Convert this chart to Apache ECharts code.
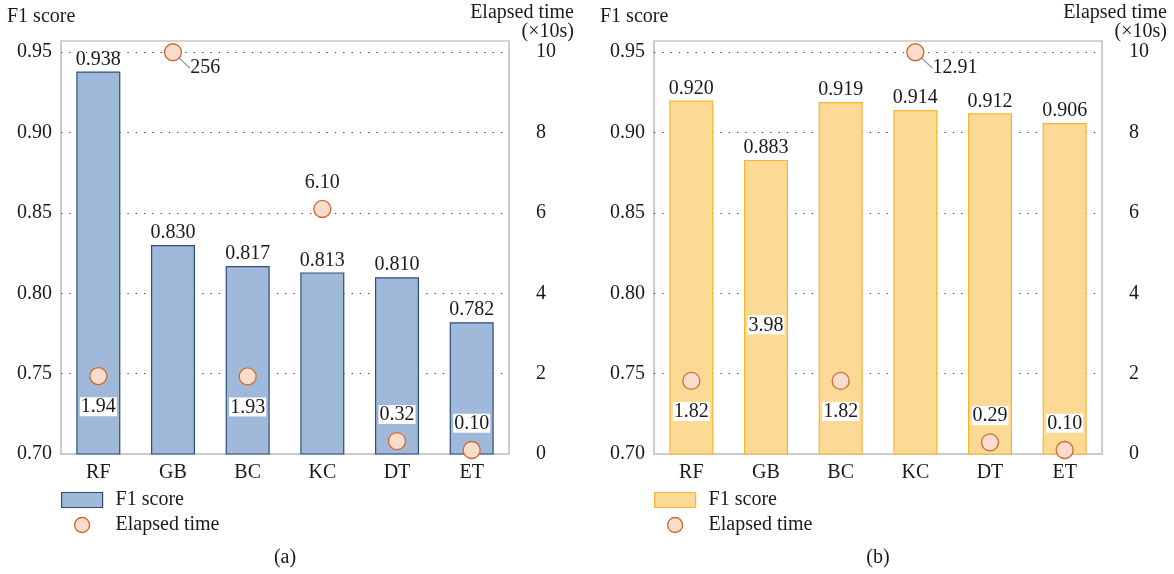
<!DOCTYPE html>
<html><head><meta charset="utf-8">
<script src="https://cdn.jsdelivr.net/npm/echarts@6/dist/echarts.min.js"></script>
<style>html,body{margin:0;padding:0;background:#fff}#c{width:1174px;height:574px}</style>
</head><body><div id="c"></div>
<script>
// ---- data ----
const categories = ['RF', 'GB', 'BC', 'KC', 'DT', 'ET'];
const f1A = [0.938, 0.830, 0.817, 0.813, 0.810, 0.782];
const timeA = [1.94, 256, 1.93, 6.10, 0.32, 0.10];
const f1B = [0.920, 0.883, 0.919, 0.914, 0.912, 0.906];
const timeB = [1.82, 3.98, 1.82, 12.91, 0.29, 0.10];
const f1Ticks = [0.70, 0.75, 0.80, 0.85, 0.90, 0.95];
const timeTicks = [0, 2, 4, 6, 8, 10];
const captions = ['(a)', '(b)'];
const seriesNames = ['F1 score', 'Elapsed time'];
const leftAxisTitle = 'F1 score';
const rightAxisTitle = 'Elapsed time\n(×10s)';

// ---- label placement / style config ----
const labelPlaceA = ['bottom', 'callout', 'bottom', 'top', 'top', 'top'];
const labelPlaceB = ['bottom', 'bottom', 'bottom', 'callout', 'top', 'top'];
const hiddenMarkersB = ['GB'];

const FONT = 'Liberation Serif';
const FS = 20;
const TXT = '#1a1a1a';
const BOX = '#c8c8c8';

const f1Min = f1Ticks[0], f1Step = f1Ticks[1] - f1Ticks[0];
const f1Top = f1Ticks[f1Ticks.length - 1];
const f1Max = 0.957; // a little headroom above the last tick
const tMin = timeTicks[0], tStep = timeTicks[1] - timeTicks[0];
const tTop = timeTicks[timeTicks.length - 1];
const tMax = tTop * (f1Max - f1Min) / (f1Top - f1Min);

const panels = [
  {left: 61, f1: f1A, time: timeA, place: labelPlaceA, hidden: [],
   bar: {color: '#a0b9da', borderColor: '#2b4c7e'}},
  {left: 654, f1: f1B, time: timeB, place: labelPlaceB, hidden: hiddenMarkersB,
   bar: {color: '#fcd995', borderColor: '#f6b52e'}}
];
const GRID_W = 448, GRID_TOP = 41, GRID_H = 413;
const dot = {color: '#fadccc', borderColor: '#cf6a30', borderWidth: 1.3, opacity: 1};

const txt = (extra) => Object.assign({fontFamily: FONT, fontSize: FS, color: TXT}, extra || {});

const option = {
  animation: false,
  backgroundColor: '#fff',
  textStyle: {fontFamily: FONT},
  title: [], grid: [], xAxis: [], yAxis: [], series: [], legend: []
};

panels.forEach((p, i) => {
  option.grid.push({left: p.left, top: GRID_TOP, width: GRID_W, height: GRID_H,
    show: true, borderColor: BOX, borderWidth: 1.5, backgroundColor: 'transparent'});
  option.xAxis.push({type: 'category', gridIndex: i, data: categories,
    axisLine: {show: true, lineStyle: {color: BOX, width: 1.5}},
    axisTick: {show: false},
    axisLabel: txt({margin: 9})});
  option.yAxis.push({type: 'value', gridIndex: i, position: 'left',
    min: f1Min, max: f1Max, interval: f1Step,
    axisLine: {show: true, lineStyle: {color: BOX, width: 1.5}},
    axisTick: {show: false}, splitLine: {show: false},
    axisLabel: txt({margin: 9, showMaxLabel: false, formatter: v => v.toFixed(2)})});
  option.yAxis.push({type: 'value', gridIndex: i, position: 'right',
    min: tMin, max: tMax, interval: tStep,
    axisLine: {show: true, lineStyle: {color: BOX, width: 1.5}},
    axisTick: {show: false}, splitLine: {show: false},
    axisLabel: txt({margin: 27, align: 'left', showMaxLabel: false, formatter: v => String(v)})});

  option.series.push({
    type: 'bar', name: seriesNames[0], xAxisIndex: i, yAxisIndex: 2 * i,
    data: p.f1, barWidth: 44, z: 2,
    itemStyle: {color: p.bar.color, borderColor: p.bar.borderColor, borderWidth: 1.2},
    label: txt({show: true, position: 'top', distance: 2, formatter: d => d.value.toFixed(3)}),
    markLine: {silent: true, symbol: 'none', z: 1, label: {show: false},
      lineStyle: {color: '#3a3a3a', type: [1.3, 7], width: 1.2},
      emphasis: {disabled: true},
      data: f1Ticks.slice(1).map(v => ({yAxis: v}))}
  });

  const sdata = p.time.map((v, k) => {
    const place = p.place[k];
    const item = {value: Math.min(v, tTop), raw: v};
    const lab = {position: place === 'callout' ? 'right' : place,
      distance: place === 'bottom' ? 12 : (place === 'top' ? 8 : 2)};
    if (place !== 'callout') {
      lab.backgroundColor = '#fff';
      lab.padding = [1, 1, 0, 1];
    }
    item.label = lab;
    if (place === 'callout') {
      item.labelLine = {show: true, lineStyle: {color: '#9a9a9a', width: 1.2}};
    }
    if (p.hidden.indexOf(categories[k]) >= 0) {
      item.itemStyle = {color: 'transparent', borderColor: 'transparent'};
    }
    return item;
  });
  option.series.push({
    type: 'scatter', name: seriesNames[1], xAxisIndex: i, yAxisIndex: 2 * i + 1,
    data: sdata, symbol: 'circle', symbolSize: 17, z: 3, clip: false,
    itemStyle: dot,
    label: txt({show: true, lineHeight: 18, formatter: d => d.data.raw >= 100 ? String(d.data.raw) : d.data.raw.toFixed(2)}),
    labelLayout: params => (p.place[params.dataIndex] === 'callout' ? {dx: 6, dy: 16} : {})
  });

  option.legend.push({
    left: p.left, top: 490, orient: 'vertical', padding: 0,
    itemWidth: 41, itemHeight: 15, itemGap: 5, selectedMode: false,
    textStyle: txt({padding: [0, 0, 0, 8]}),
    data: [
      {name: seriesNames[0], icon: 'rect',
       itemStyle: {color: p.bar.color, borderColor: p.bar.borderColor, borderWidth: 1.2}},
      {name: seriesNames[1], icon: 'circle', itemStyle: dot}
    ]
  });

  option.title.push({text: leftAxisTitle, left: p.left - 54, top: 7, padding: 0,
    textAlign: 'left', textStyle: txt({fontWeight: 'normal', lineHeight: 19})});
  option.title.push({text: rightAxisTitle, left: p.left + GRID_W + 65, top: 3, padding: 0,
    textAlign: 'right', textStyle: txt({fontWeight: 'normal', lineHeight: 19})});
  option.title.push({text: captions[i], left: p.left + GRID_W / 2, top: 548, padding: 0,
    textAlign: 'center', textStyle: txt({fontWeight: 'normal', lineHeight: 19})});
});

const chart = echarts.init(document.getElementById('c'), null, {renderer: 'canvas'});
chart.setOption(option);
</script>
</body></html>
